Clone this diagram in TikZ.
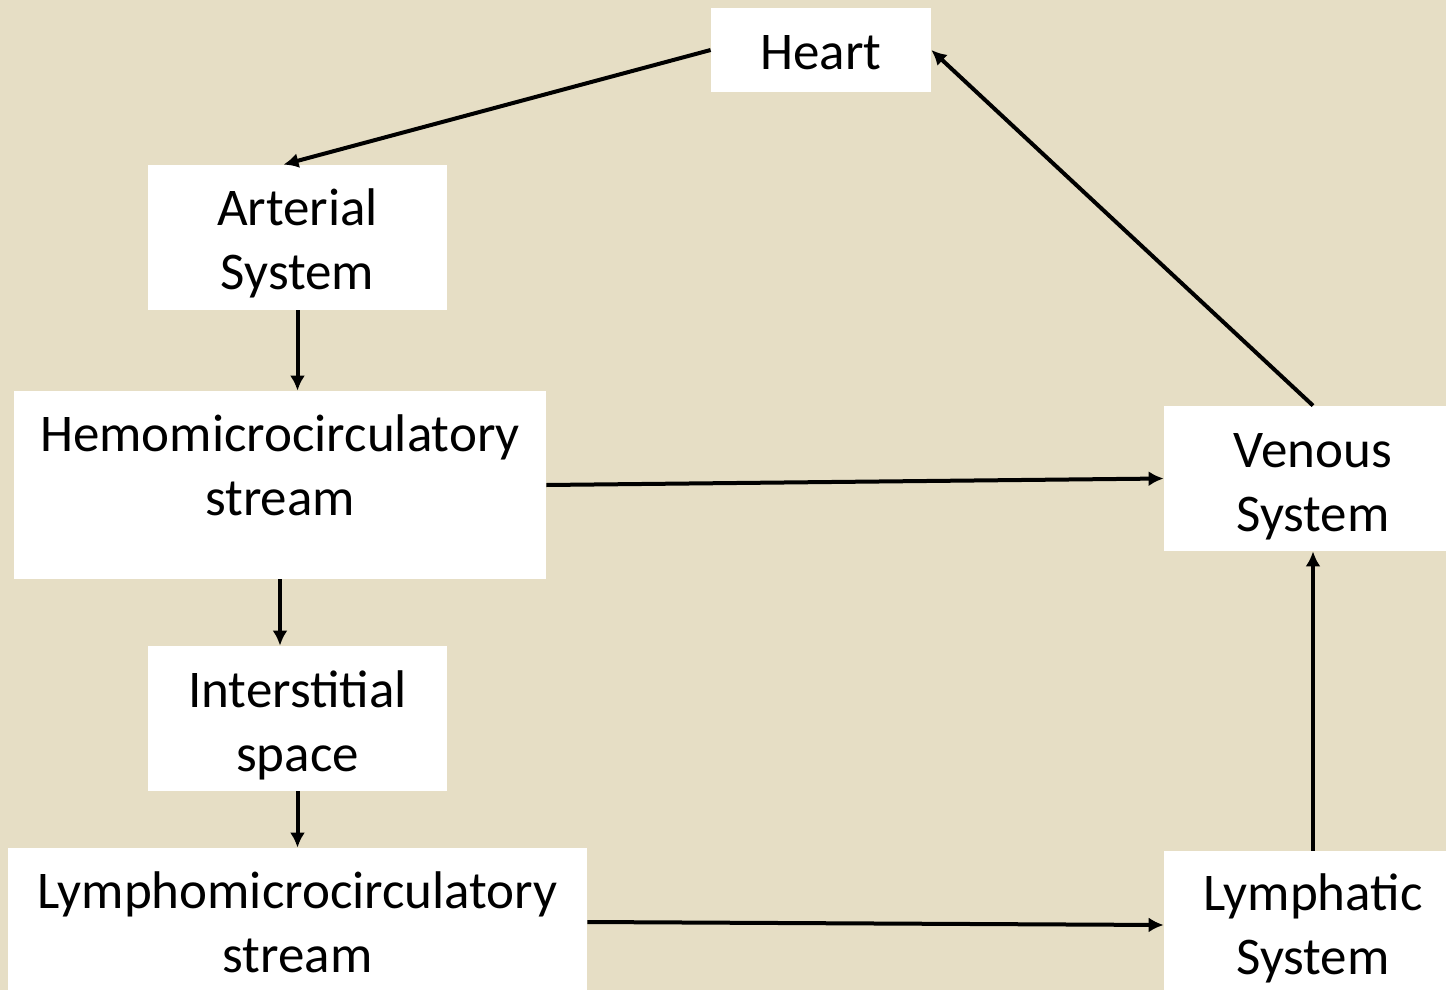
\documentclass[tikz,border=0pt]{standalone}
\usepackage{fontspec}
\setmainfont{Carlito}
\usetikzlibrary{arrows.meta}
\definecolor{bg}{HTML}{E6DEC5}
\begin{document}
\begin{tikzpicture}[x=0.5pt,y=-0.5pt,
  box/.style={fill=white, draw=none, inner sep=0pt},
  txt/.style={align=center, inner sep=0pt,
    font=\fontsize{26.5pt}{32pt}\selectfont},
  arr/.style={line width=2pt, -{Latex[length=7.5pt,width=7.5pt]}}]
\fill[bg] (0,0) rectangle (1446,990);
\useasboundingbox (0,0) rectangle (1446,990);
\node[box, minimum width=110pt, minimum height=42pt] (heart) at (821,50) {};
\node[box, minimum width=149.5pt, minimum height=72.5pt] (art) at (297.5,237.5) {};
\node[box, minimum width=266pt, minimum height=94pt] (hemo) at (280,485) {};
\node[box, minimum width=149.5pt, minimum height=72.5pt] (inter) at (297.5,718.5) {};
\node[box, minimum width=289.5pt, minimum height=74pt] (lympho) at (297.5,922) {};
\node[box, minimum width=149pt, minimum height=72.5pt] (venous) at (1313,478.5) {};
\node[box, minimum width=149pt, minimum height=74pt] (lymph) at (1313,925) {};
\node[txt] (heart-t) at ([yshift=-1.5pt]heart.center) {Heart};
\node[txt] (art-t) at ([yshift=-3pt]art.center) {Arterial\\System};
\node[txt] (hemo-t) at ([yshift=10pt]hemo.center) {Hemomicrocirculatory\\stream};
\node[txt] (inter-t) at ([yshift=-3.5pt]inter.center) {Interstitial\\space};
\node[txt] (lympho-t) at (lympho.center) {Lymphomicrocirculatory\\stream};
\node[txt] (venous-t) at ([yshift=-4pt]venous.center) {Venous\\System};
\node[txt] (lymph-t) at ([yshift=-1.5pt]lymph.center) {Lymphatic\\System};
\draw[arr] (heart.west) -- ([xshift=-7pt]art.north);
\draw[arr] (art.south) -- (art.south |- hemo.north);
\draw[arr] (hemo.east) -- (venous.west);
\draw[arr] (hemo.south) -- (hemo.south |- inter.north);
\draw[arr] (inter.south) -- (inter.south |- lympho.north);
\draw[arr] (lympho.east) -- (lymph.west);
\draw[arr] (lymph.north) -- (venous.south);
\draw[arr] (venous.north) -- (heart.east);
\end{tikzpicture}
\end{document}
